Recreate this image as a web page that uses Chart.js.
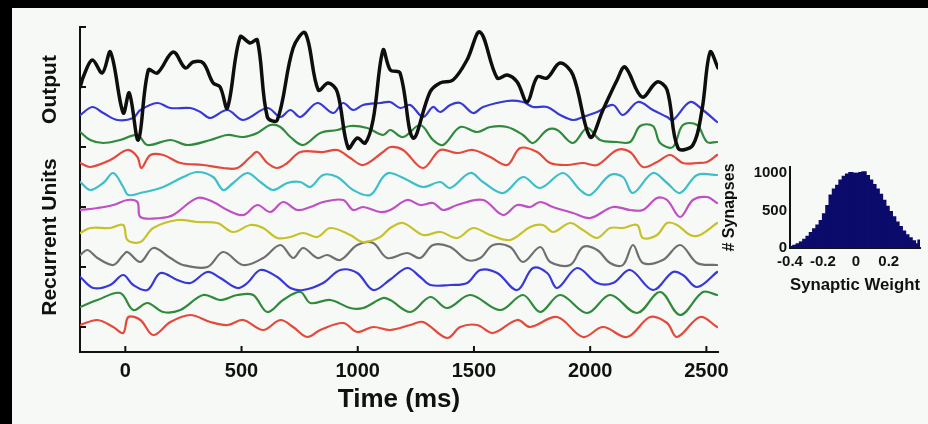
<!DOCTYPE html>
<html><head><meta charset="utf-8">
<script src="https://cdn.jsdelivr.net/npm/chart.js@4.4.1/dist/chart.umd.min.js"></script>
<style>
html,body{margin:0;padding:0;background:#000;}
#wrap{position:relative;width:928px;height:424px;overflow:hidden;background:#000;}
#panel{position:absolute;left:12px;top:8px;right:0;bottom:0;background:#f7f9f7;}
#main{position:absolute;left:0;top:0;}
#hist{position:absolute;left:720px;top:150px;}
</style></head>
<body><div id="wrap"><div id="panel"></div>
<canvas id="main" width="928" height="424"></canvas>
<canvas id="hist" width="208" height="150"></canvas></div>
<script>
// ---------- data (time in ms, activity in stacked display units) ----------
const xTickValues = [0, 500, 1000, 1500, 2000, 2500];
const yTickValues = [1, 3.4, 5.8, 8.2, 10.6, 13];

const outputTrace = [[-194,10.6],[-181,11.0],[-142,11.68],[-99,11.16],[-64,12.0],[-9,9.56],[17,10.36],[56,8.48],[99,11.28],[138,11.16],[206,12.0],[258,11.36],[292,11.6],[335,11.56],[378,10.76],[408,10.6],[439,9.76],[494,12.6],[537,12.36],[568,12.48],[611,9.4],[654,9.28],[722,12.16],[774,12.76],[830,10.48],[873,10.76],[912,10.4],[959,8.16],[998,8.56],[1032,8.36],[1066,9.28],[1109,12.08],[1140,11.28],[1182,11.16],[1238,8.56],[1311,10.4],[1354,10.76],[1410,10.88],[1470,11.68],[1526,12.8],[1600,10.96],[1643,11.08],[1686,10.8],[1729,10.0],[1772,11.0],[1815,10.96],[1870,11.56],[1926,11.08],[2000,8.6],[2055,9.68],[2116,10.88],[2150,11.4],[2223,10.2],[2288,10.8],[2331,10.48],[2378,8.16],[2442,8.28],[2481,9.68],[2516,12.0],[2550,11.36]];

const unitBlue1 = [[-194,9.48],[-142,9.8],[-95,9.56],[-34,9.28],[34,9.36],[65,9.68],[138,9.96],[194,9.76],[280,9.76],[323,9.6],[366,9.36],[439,9.68],[507,9.28],[611,9.76],[667,9.4],[710,9.68],[753,9.4],[826,9.96],[894,9.56],[937,9.96],[980,9.68],[1023,9.88],[1097,9.96],[1140,10.0],[1183,9.76],[1226,9.88],[1281,9.4],[1324,9.8],[1355,9.6],[1398,9.88],[1441,9.96],[1496,9.56],[1539,9.8],[1643,10.04],[1711,10.0],[1754,9.8],[1815,9.8],[1871,9.48],[1926,9.28],[1969,9.4],[2030,9.6],[2098,9.88],[2141,9.48],[2206,10.0],[2270,9.68],[2331,9.4],[2356,9.28],[2430,10.0],[2485,9.68],[2546,9.2]];

const unitGreen1 = [[-194,8.8],[-151,8.48],[-95,8.36],[-22,8.48],[52,8.68],[95,8.28],[194,8.48],[267,8.28],[366,8.48],[439,8.68],[507,8.6],[568,8.76],[624,9.08],[667,9.0],[710,8.6],[765,8.28],[839,8.76],[912,8.88],[968,9.04],[1041,8.96],[1109,8.68],[1140,8.88],[1195,8.6],[1269,9.08],[1324,8.48],[1367,8.28],[1441,9.0],[1514,8.8],[1570,9.0],[1643,9.0],[1711,8.68],[1754,8.36],[1815,8.88],[1858,8.88],[1926,8.36],[1987,8.96],[2043,8.48],[2116,8.4],[2172,8.4],[2215,9.04],[2270,9.04],[2301,8.36],[2356,8.2],[2399,9.08],[2460,9.08],[2503,8.4],[2546,8.4]];

const unitRed1 = [[-194,7.56],[-151,7.4],[-65,7.68],[9,8.08],[52,7.8],[69,7.36],[108,7.88],[163,7.88],[237,7.56],[335,7.48],[421,7.36],[482,7.36],[538,7.8],[568,8.0],[611,7.56],[654,7.36],[697,7.56],[753,8.0],[851,8.0],[912,8.08],[968,7.76],[1023,7.48],[1109,8.0],[1140,8.2],[1195,8.08],[1281,7.36],[1355,8.08],[1428,7.96],[1496,8.08],[1570,7.8],[1643,7.48],[1699,8.16],[1772,8.0],[1828,7.56],[1901,7.48],[1969,7.56],[2030,7.48],[2116,8.08],[2172,8.0],[2227,7.4],[2288,7.6],[2344,7.88],[2399,7.56],[2460,7.56],[2503,7.6],[2546,7.88]];

const unitCyan = [[-194,6.8],[-151,6.48],[-95,6.76],[-52,7.16],[-9,6.6],[13,6.28],[65,6.36],[163,6.6],[249,7.0],[310,7.2],[378,7.0],[421,6.48],[464,6.76],[525,7.16],[581,6.8],[636,6.48],[697,6.76],[753,6.8],[796,6.6],[851,7.08],[912,7.0],[980,6.48],[1054,6.28],[1109,7.0],[1140,7.16],[1213,6.88],[1281,6.6],[1355,6.8],[1398,6.56],[1484,7.16],[1539,6.8],[1625,6.36],[1711,7.0],[1785,6.56],[1883,7.16],[1957,6.48],[2000,6.28],[2086,7.08],[2141,7.0],[2184,6.36],[2270,7.16],[2331,6.76],[2387,6.36],[2460,7.08],[2546,7.08]];

const unitMagenta = [[-194,5.68],[-120,5.76],[-52,5.88],[9,6.08],[52,6.0],[65,5.4],[151,5.36],[206,5.48],[310,6.16],[378,6.0],[439,5.68],[507,5.48],[568,5.88],[624,5.6],[679,6.0],[740,5.68],[796,5.8],[851,6.0],[937,6.08],[980,5.68],[1023,5.8],[1097,5.6],[1140,5.68],[1213,6.08],[1269,5.88],[1324,5.96],[1367,5.68],[1428,5.88],[1539,6.08],[1625,5.48],[1686,5.88],[1742,5.8],[1785,6.0],[1840,5.8],[1926,5.56],[2000,5.36],[2098,5.8],[2172,5.68],[2227,5.68],[2288,6.16],[2331,6.08],[2387,5.4],[2442,6.08],[2503,6.2],[2546,5.96]];

const unitYellow = [[-194,4.76],[-151,4.96],[-65,4.96],[-9,5.08],[9,4.48],[65,4.4],[120,4.96],[224,5.28],[310,5.2],[396,5.16],[464,4.8],[538,5.08],[593,4.96],[654,4.56],[710,4.6],[765,4.76],[826,4.6],[882,4.96],[968,4.68],[1023,4.4],[1097,4.6],[1140,4.96],[1195,5.16],[1281,4.68],[1355,4.8],[1428,4.56],[1496,4.96],[1570,4.68],[1656,4.48],[1742,5.0],[1797,5.08],[1840,4.8],[1914,5.16],[1969,4.88],[2030,4.56],[2086,4.96],[2141,4.96],[2202,5.08],[2227,4.56],[2288,4.68],[2331,5.16],[2374,5.08],[2430,4.68],[2473,4.68],[2546,5.16]];

const unitGray = [[-194,3.88],[-163,4.08],[-120,3.76],[-52,3.48],[-9,3.88],[9,4.0],[65,3.6],[120,4.16],[194,3.76],[249,3.48],[353,3.4],[421,4.0],[507,3.48],[593,3.76],[667,4.28],[722,3.76],[765,4.16],[826,3.76],[869,3.88],[925,3.68],[998,4.28],[1066,4.36],[1127,3.76],[1213,3.96],[1269,3.76],[1324,4.28],[1398,4.2],[1471,3.68],[1527,3.76],[1582,4.28],[1656,4.2],[1711,3.6],[1785,4.2],[1828,3.6],[1914,3.48],[1969,4.2],[2030,4.08],[2086,3.56],[2141,3.48],[2184,4.28],[2227,3.56],[2313,3.68],[2387,4.28],[2460,3.56],[2546,3.48]];

const unitBlue2 = [[-194,3.0],[-138,2.56],[-65,2.68],[-9,3.08],[34,2.68],[95,2.48],[151,3.16],[224,2.88],[280,2.76],[353,3.2],[409,2.96],[482,2.56],[525,2.76],[581,3.28],[654,3.0],[710,2.56],[765,2.48],[851,2.76],[925,3.28],[998,3.16],[1066,2.48],[1140,2.9],[1213,3.36],[1269,3.0],[1312,2.68],[1398,2.68],[1471,2.76],[1527,3.28],[1600,3.16],[1686,2.48],[1754,3.36],[1815,3.16],[1858,2.56],[1944,3.36],[2030,2.76],[2098,2.76],[2172,3.28],[2270,2.48],[2356,3.2],[2399,3.08],[2460,2.6],[2546,3.2]];

const unitGreen2 = [[-194,1.8],[-120,2.08],[-22,2.36],[34,1.68],[95,1.96],[163,1.6],[237,1.68],[335,2.28],[409,2.08],[482,2.28],[550,2.28],[611,1.6],[679,2.08],[753,2.4],[796,1.96],[882,2.08],[968,1.76],[1023,1.76],[1109,2.16],[1140,2.08],[1226,1.6],[1312,2.2],[1385,1.76],[1484,2.28],[1613,1.68],[1711,2.28],[1785,1.6],[1871,2.28],[1987,1.56],[2086,2.28],[2202,1.56],[2301,2.4],[2387,1.48],[2485,2.4],[2546,2.28]];

const unitRed2 = [[-194,1.08],[-120,1.28],[-52,1.0],[-9,0.76],[13,1.4],[65,1.28],[120,0.68],[194,1.2],[280,1.48],[366,1.2],[439,1.08],[507,1.28],[593,0.88],[667,1.28],[722,1.0],[783,0.6],[839,0.88],[937,1.16],[998,0.8],[1066,1.0],[1140,0.88],[1226,1.08],[1281,1.2],[1385,0.56],[1441,1.0],[1514,1.08],[1582,0.76],[1686,1.28],[1742,1.0],[1858,1.4],[1969,0.6],[2055,1.0],[2159,0.6],[2258,1.4],[2331,1.16],[2374,0.6],[2473,1.4],[2546,1.0]];

const traceNames = ['Output','Unit 1','Unit 2','Unit 3','Unit 4','Unit 5','Unit 6','Unit 7','Unit 8','Unit 9','Unit 10'];
const traceData = [outputTrace, unitBlue1, unitGreen1, unitRed1, unitCyan, unitMagenta, unitYellow, unitGray, unitBlue2, unitGreen2, unitRed2];
const traceColors = ['#0e0e0e','#3838d6','#2f8a3c','#e4493b','#3cbfc8','#c04fc6','#c7c22a','#6f6f6f','#3838d6','#2f8a3c','#e4493b'];

// histogram of synaptic weights
const weightBins = [-0.39,-0.37,-0.35,-0.33,-0.31,-0.29,-0.27,-0.25,-0.23,-0.21,-0.19,-0.17,-0.15,-0.13,-0.11,-0.09,-0.07,-0.05,-0.03,-0.01,0.01,0.03,0.05,0.07,0.09,0.11,0.13,0.15,0.17,0.19,0.21,0.23,0.25,0.27,0.29,0.31,0.33,0.35,0.37,0.39];
const synapseCounts = [15,30,50,75,110,150,200,250,300,360,450,560,700,780,830,900,950,980,1000,990,990,1000,1010,960,900,840,780,710,630,550,480,410,340,280,220,170,130,90,50,100];
const histXTicks = [-0.4,-0.2,0,0.2];
const histYTicks = [0,500,1000];

// ---------- drawing ----------
const FONT = "'Liberation Sans', Arial, sans-serif";
const INK = '#111';

const inwardTicks = {
  id: 'inwardTicks',
  afterDraw(chart) {
    const ctx = chart.ctx, a = chart.chartArea, xs = chart.scales.x, ys = chart.scales.y;
    ctx.save();
    ctx.strokeStyle = INK; ctx.lineWidth = 2;
    xs.ticks.forEach(t => { const p = xs.getPixelForValue(t.value); ctx.beginPath(); ctx.moveTo(p, a.bottom); ctx.lineTo(p, a.bottom - 6); ctx.stroke(); });
    ys.ticks.forEach(t => { const p = ys.getPixelForValue(t.value); ctx.beginPath(); ctx.moveTo(a.left, p); ctx.lineTo(a.left + 6, p); ctx.stroke(); });
    ctx.restore();
  }
};

const sideLabels = {
  id: 'sideLabels',
  afterDraw(chart) {
    const ctx = chart.ctx, a = chart.chartArea, ys = chart.scales.y;
    ctx.save();
    ctx.fillStyle = INK; ctx.font = 'bold 21px ' + FONT;
    ctx.textAlign = 'center'; ctx.textBaseline = 'middle';
    [['Output', 10.5], ['Recurrent Units', 4.6]].forEach(([txt, v]) => {
      ctx.save(); ctx.translate(a.left - 30, ys.getPixelForValue(v)); ctx.rotate(-Math.PI / 2);
      ctx.fillText(txt, 0, 0); ctx.restore();
    });
    ctx.restore();
  }
};

new Chart(document.getElementById('main'), {
  type: 'line',
  data: {
    datasets: traceData.map((d, i) => ({
      label: traceNames[i], data: d, borderColor: traceColors[i],
      borderWidth: i === 0 ? 3.5 : 2.2, pointRadius: 0, tension: 0.35, fill: false
    }))
  },
  options: {
    responsive: false, animation: false,
    layout: { padding: { left: 80, right: 210, top: 27, bottom: 0 } },
    plugins: { legend: { display: false }, tooltip: { enabled: false } },
    elements: { line: { borderCapStyle: 'round', borderJoinStyle: 'round' } },
    scales: {
      x: {
        type: 'linear', min: -195, max: 2550,
        afterBuildTicks: s => { s.ticks = xTickValues.map(v => ({ value: v })); },
        afterFit: s => { s.height = 72; },
        grid: { display: false, drawTicks: false },
        border: { display: true, color: INK, width: 2 },
        ticks: { color: INK, font: { family: FONT, weight: 'bold', size: 20 }, padding: 7, maxRotation: 0, autoSkip: false, callback: v => String(v) },
        title: { display: true, text: 'Time (ms)', color: INK, font: { family: FONT, weight: 'bold', size: 26 }, padding: { top: 0, bottom: 9 } }
      },
      y: {
        type: 'linear', min: 0, max: 13,
        afterBuildTicks: s => { s.ticks = yTickValues.map(v => ({ value: v })); },
        afterFit: s => { s.width = 0; },
        grid: { display: false, drawTicks: false },
        border: { display: true, color: INK, width: 2 },
        ticks: { display: false }
      }
    }
  },
  plugins: [inwardTicks, sideLabels]
});

new Chart(document.getElementById('hist'), {
  type: 'bar',
  data: {
    datasets: [{
      label: '# Synapses',
      data: weightBins.map((w, i) => ({ x: w, y: synapseCounts[i] })),
      backgroundColor: '#0b0b6c', borderWidth: 0, inflateAmount: 1, barPercentage: 1, categoryPercentage: 1
    }]
  },
  options: {
    responsive: false, animation: false,
    layout: { padding: { left: 0, right: 8, top: 17, bottom: 0 } },
    plugins: { legend: { display: false }, tooltip: { enabled: false } },
    scales: {
      x: {
        type: 'linear', min: -0.4, max: 0.39, offset: false,
        afterBuildTicks: s => { s.ticks = histXTicks.map(v => ({ value: v })); },
        afterFit: s => { s.height = 52; },
        grid: { display: false, drawTicks: false },
        border: { display: true, color: INK, width: 2 },
        ticks: { color: INK, font: { family: FONT, weight: 'bold', size: 15 }, padding: 5, maxRotation: 0, autoSkip: false, callback: v => String(v) },
        title: { display: true, text: 'Synaptic Weight', color: INK, font: { family: FONT, weight: 'bold', size: 17 }, padding: { top: 0, bottom: 4 } }
      },
      y: {
        type: 'linear', min: 0, max: 1080,
        afterBuildTicks: s => { s.ticks = histYTicks.map(v => ({ value: v })); },
        afterFit: s => { s.width = 70; },
        grid: { display: false, drawTicks: false },
        border: { display: true, color: INK, width: 2 },
        ticks: { color: INK, font: { family: FONT, weight: 'bold', size: 15 }, padding: 3, callback: v => String(v) },
        title: { display: true, text: '# Synapses', color: INK, font: { family: FONT, weight: 'bold', size: 16 }, padding: { top: 0, bottom: 0 } }
      }
    }
  }
});
</script>
</body></html>
